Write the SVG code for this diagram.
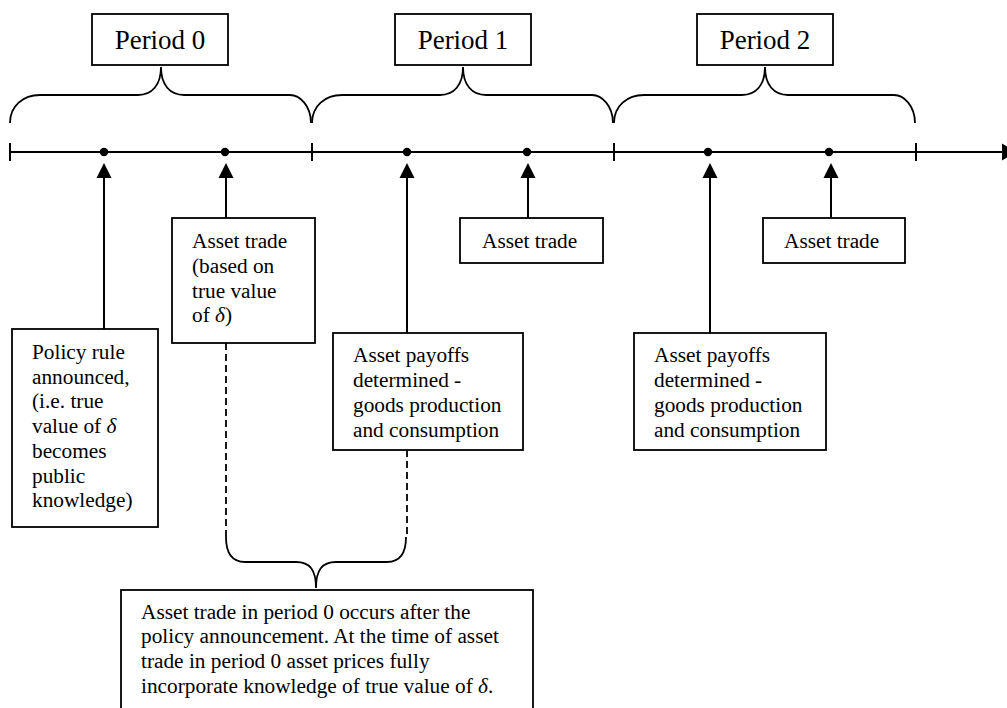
<svg xmlns="http://www.w3.org/2000/svg" width="1007" height="708" viewBox="0 0 1007 708">
<defs>
<style>
.box{fill:#fff;stroke:#000;stroke-width:1.8}
.t{font-family:'Liberation Serif','Times New Roman',Times,'DejaVu Serif',serif;font-size:21.3px;fill:#000}
.pt{font-family:'Liberation Serif','Times New Roman',Times,'DejaVu Serif',serif;font-size:27px;fill:#000;text-anchor:middle}
.ln{stroke:#000;stroke-width:2;fill:none}
.br{stroke:#000;stroke-width:1.8;fill:none}
.dash{stroke:#000;stroke-width:1.8;fill:none;stroke-dasharray:7,4}
.i{font-style:italic}
</style>
<path id="brace" d="M10,123 C10,106 23,95 40,95 L138,95 C152,95 161,85 161,67 C161,85 170,95 184,95 L290,95 C300,95 311,106 311,123"/>
</defs>
<rect width="1007" height="708" fill="#fff"/>

<g id="timeline">
<line class="ln" x1="10" y1="152" x2="1002" y2="152"/>
<path d="M1002,143.5 L1016,152 L1002,160.5 z" fill="#000"/>
<line class="ln" x1="10" y1="143" x2="10" y2="161"/>
<line class="ln" x1="312" y1="143" x2="312" y2="161"/>
<line class="ln" x1="614" y1="143" x2="614" y2="161"/>
<line class="ln" x1="916" y1="143" x2="916" y2="161"/>
<circle cx="104" cy="152" r="4.2"/>
<circle cx="225" cy="152" r="4.2"/>
<circle cx="407" cy="152" r="4.2"/>
<circle cx="527" cy="152" r="4.2"/>
<circle cx="708" cy="152" r="4.2"/>
<circle cx="829" cy="152" r="4.2"/>
</g>

<g id="braces">
<use href="#brace" class="br"/>
<use href="#brace" class="br" transform="translate(302,0)"/>
<use href="#brace" class="br" transform="translate(604,0)"/>
</g>

<g id="period0">
<rect class="box" x="92" y="14" width="136" height="51"/>
<text class="pt" x="160" y="49">Period 0</text>
</g>
<g id="period1">
<rect class="box" x="395" y="14" width="136" height="51"/>
<text class="pt" x="463" y="49">Period 1</text>
</g>
<g id="period2">
<rect class="box" x="697" y="14" width="136" height="51"/>
<text class="pt" x="765" y="49">Period 2</text>
</g>

<g id="connectors">
<path d="M104,329 V178" class="ln" stroke-width="1.8"/>
<path d="M96.5,178 L104,163 L111.5,178 z"/>
<path d="M226,218 V178" class="ln" stroke-width="1.8"/>
<path d="M218.5,178 L226,163 L233.5,178 z"/>
<path d="M407,333 V178" class="ln" stroke-width="1.8"/>
<path d="M399.5,178 L407,163 L414.5,178 z"/>
<path d="M528,218 V178" class="ln" stroke-width="1.8"/>
<path d="M520.5,178 L528,163 L535.5,178 z"/>
<path d="M710,333 V178" class="ln" stroke-width="1.8"/>
<path d="M702.5,178 L710,163 L717.5,178 z"/>
<path d="M831,218 V178" class="ln" stroke-width="1.8"/>
<path d="M823.5,178 L831,163 L838.5,178 z"/>
<line class="dash" x1="226" y1="343" x2="226" y2="537"/>
<line class="dash" x1="407" y1="450" x2="407" y2="537"/>
<path class="br" d="M226,537 C226,553 232,562 245,562 L296,562 C310,562 316,570 316,588 C316,570 322,562 336,562 L387,562 C400,562 406,553 406,537"/>
</g>

<g id="policy">
<rect class="box" x="12" y="329" width="146" height="198"/>
<text class="t"><tspan x="32" y="359">Policy rule</tspan><tspan x="32" y="384">announced,</tspan><tspan x="32" y="408">(i.e. true</tspan><tspan x="32" y="433">value of <tspan class="i">δ</tspan></tspan><tspan x="32" y="458">becomes</tspan><tspan x="32" y="483">public</tspan><tspan x="32" y="507">knowledge)</tspan></text>
</g>

<g id="trade0">
<rect class="box" x="172" y="218" width="143" height="125"/>
<text class="t"><tspan x="192" y="248">Asset trade</tspan><tspan x="192" y="273">(based on</tspan><tspan x="192" y="298">true value</tspan><tspan x="192" y="322">of <tspan class="i">δ</tspan>)</tspan></text>
</g>

<g id="payoffs1">
<rect class="box" x="333" y="333" width="190" height="117"/>
<text class="t"><tspan x="353" y="362">Asset payoffs</tspan><tspan x="353" y="387">determined -</tspan><tspan x="353" y="412">goods production</tspan><tspan x="353" y="437">and consumption</tspan></text>
</g>

<g id="trade1">
<rect class="box" x="460" y="218" width="143" height="45"/>
<text class="t" x="482" y="248">Asset trade</text>
</g>

<g id="payoffs2">
<rect class="box" x="634" y="333" width="192" height="117"/>
<text class="t"><tspan x="654" y="362">Asset payoffs</tspan><tspan x="654" y="387">determined -</tspan><tspan x="654" y="412">goods production</tspan><tspan x="654" y="437">and consumption</tspan></text>
</g>

<g id="trade2">
<rect class="box" x="763" y="218" width="142" height="45"/>
<text class="t" x="784" y="248">Asset trade</text>
</g>

<g id="note">
<rect class="box" x="121" y="590" width="412" height="130"/>
<text class="t"><tspan x="141" y="619">Asset trade in period 0 occurs after the</tspan><tspan x="141" y="643">policy announcement. At the time of asset</tspan><tspan x="141" y="668">trade in period 0 asset prices fully</tspan><tspan x="141" y="693">incorporate knowledge of true value of <tspan class="i">δ</tspan>.</tspan></text>
</g>
</svg>
